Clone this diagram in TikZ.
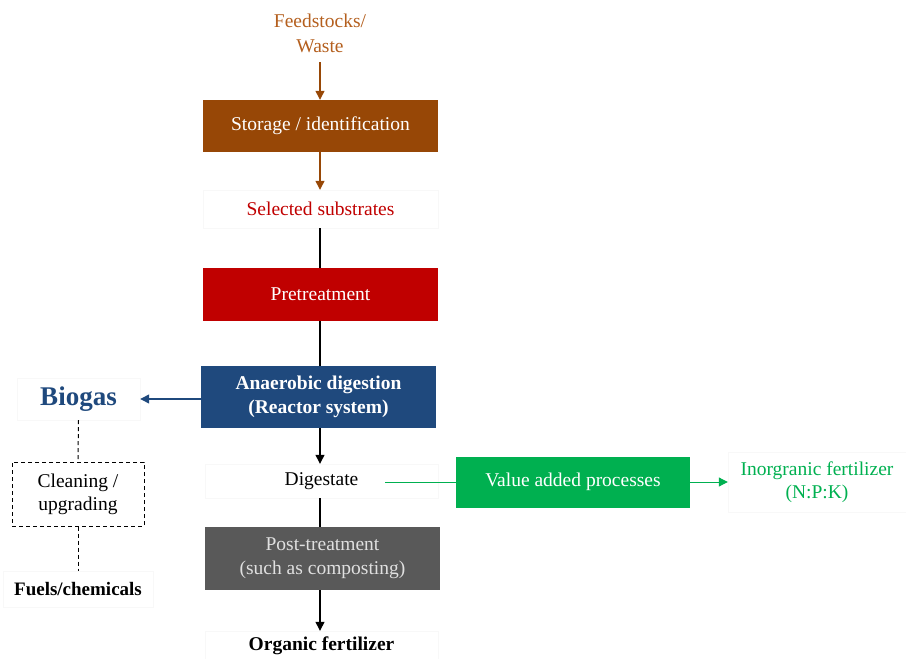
\documentclass[tikz,border=0pt]{standalone}
\usepackage{fontspec}
\setmainfont{Liberation Serif}
\usetikzlibrary{arrows.meta}
\definecolor{cbrown}{RGB}{151,71,6}
\definecolor{cbrowntxt}{RGB}{180,95,30}
\definecolor{cred}{RGB}{192,0,0}
\definecolor{cblue}{RGB}{31,73,125}
\definecolor{cgreen}{RGB}{0,176,80}
\definecolor{cgray}{RGB}{89,89,89}
\definecolor{cfaint}{RGB}{248,248,248}
\tikzset{
  proc/.style={minimum width=235pt, inner sep=0pt, align=center, text=white, font=\fontsize{19.5}{24}\selectfont},
  plain/.style={inner sep=0pt, align=center, draw=cfaint, font=\fontsize{19.5}{24}\selectfont},
  arr/.style={line width=1.3pt, -{Triangle[length=9pt,width=9pt]}},
  ln/.style={line width=1.3pt},
  dsh/.style={line width=1pt, dash pattern=on 4pt off 3pt},
}
\begin{document}
\begin{tikzpicture}[x=1pt,y=-1pt]
\useasboundingbox (0,0) rectangle (906,659);
\node[align=center, text=cbrowntxt, inner sep=0pt, font=\fontsize{19.5}{25}\selectfont] (feed) at (320,33) {Feedstocks/\\Waste};
\node[proc, fill=cbrown, minimum height=52pt] (stor) at (320.5,126) {Storage / identification};
\node[plain, minimum width=235pt, minimum height=38pt, text=cred] (sel) at (320.5,209) {Selected substrates};
\node[proc, fill=cred, minimum height=53pt] (pre) at (320.5,294.5) {Pretreatment};
\node[proc, fill=cblue, minimum height=62pt, font=\fontsize{19.5}{24}\selectfont\bfseries] (ad) at (318.5,397) {Anaerobic digestion\\(Reactor system)};
\node[plain, minimum width=123pt, minimum height=42pt, text=cblue, font=\fontsize{27}{30}\selectfont\bfseries] (bio) at (78.5,399) {Biogas};
\node[draw, dsh, minimum width=132pt, minimum height=64pt, inner sep=0pt, align=center, font=\fontsize{19.5}{23}\selectfont] (clean) at (78,494) {Cleaning /\\upgrading};
\node[plain, minimum width=150pt, minimum height=36pt, font=\fontsize{19}{24}\selectfont\bfseries] (fuel) at (78,589) {Fuels/chemicals};
\node[plain, minimum width=233pt, minimum height=34pt] (dig) at (321.5,481) {Digestate};
\node[proc, fill=cgreen, minimum width=234pt, minimum height=51pt] (val) at (573,482) {Value added processes};
\node[plain, minimum width=178pt, minimum height=60pt, text=cgreen, font=\fontsize{19.5}{23}\selectfont] (inorg) at (817,482) {Inorgranic fertilizer\\(N:P:K)};
\node[proc, fill=cgray, minimum height=63pt, text=black!12, font=\fontsize{19.5}{24}\selectfont] (post) at (322.5,558.5) {Post-treatment\\(such as composting)};
\node[plain, minimum width=233pt, minimum height=30pt, font=\fontsize{19.5}{24}\selectfont\bfseries] (org) at (321.5,646) {Organic fertilizer};
\coordinate (feedb) at (320,62);
\coordinate (digr) at (385,482);
\draw[arr, cbrown] (feedb) -- (stor.north -| feedb);
\draw[arr, cbrown] (stor.south -| feedb) -- (sel.north -| feedb);
\draw[ln] (sel.south -| feedb) -- (pre.north -| feedb);
\draw[ln] (pre.south -| feedb) -- (ad.north -| feedb);
\draw[arr] (ad.south -| feedb) -- (dig.north -| feedb);
\draw[ln] (dig.south -| feedb) -- (post.north -| feedb);
\draw[arr] (post.south -| feedb) -- (org.north -| feedb);
\draw[arr, cblue] (ad.west |- bio) -- (bio.east);
\draw[dsh] (bio.south) -- (clean.north);
\draw[dsh] (clean.south) -- (fuel.north);
\draw[ln, cgreen, line width=1pt] (digr) -- (val.west);
\draw[arr, cgreen, line width=1pt] (val.east) -- (inorg.west);
\end{tikzpicture}
\end{document}
